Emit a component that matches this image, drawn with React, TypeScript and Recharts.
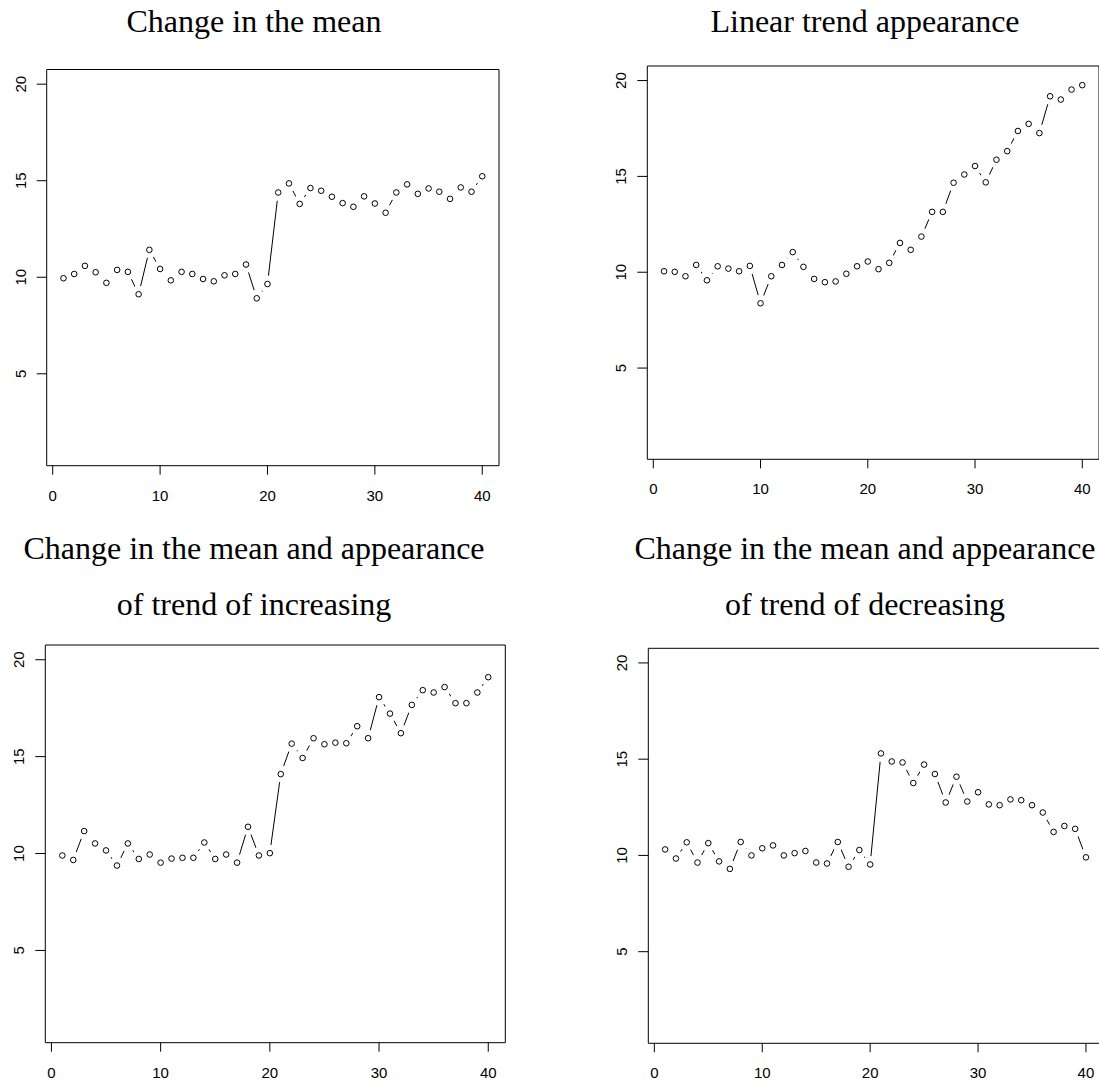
import React from 'react'
import { LineChart, Line, XAxis, YAxis, ReferenceArea } from 'recharts'

// time index shared by all four series
const timeIndex = [
  1, 2, 3, 4, 5, 6, 7, 8, 9, 10, 11, 12, 13, 14, 15, 16, 17, 18, 19, 20,
  21, 22, 23, 24, 25, 26, 27, 28, 29, 30, 31, 32, 33, 34, 35, 36, 37, 38, 39, 40,
]

const meanShift = [
  9.95, 10.17, 10.59, 10.26, 9.71, 10.38, 10.28, 9.12, 11.42, 10.43,
  9.84, 10.28, 10.17, 9.91, 9.79, 10.1, 10.17, 10.66, 8.91, 9.65,
  14.39, 14.86, 13.8, 14.62, 14.48, 14.17, 13.84, 13.65, 14.19, 13.82,
  13.34, 14.39, 14.81, 14.32, 14.6, 14.43, 14.06, 14.65, 14.43, 15.23,
]

const linearTrend = [
  10.05, 10.02, 9.79, 10.38, 9.58, 10.31, 10.19, 10.05, 10.33, 8.38,
  9.79, 10.38, 11.05, 10.28, 9.65, 9.48, 9.52, 9.92, 10.31, 10.56,
  10.16, 10.49, 11.53, 11.17, 11.86, 13.15, 13.15, 14.67, 15.1, 15.54,
  14.69, 15.87, 16.32, 17.37, 17.74, 17.26, 19.18, 19.01, 19.53, 19.76,
]

const meanTrendUp = [
  9.9, 9.67, 11.16, 10.52, 10.16, 9.38, 10.52, 9.72, 9.95, 9.53,
  9.74, 9.78, 9.78, 10.57, 9.72, 9.95, 9.53, 11.38, 9.9, 10.02,
  14.1, 15.67, 14.93, 15.95, 15.64, 15.72, 15.69, 16.57, 15.95, 18.07,
  17.22, 16.21, 17.67, 18.43, 18.31, 18.59, 17.76, 17.76, 18.31, 19.1,
]

const meanTrendDown = [
  10.31, 9.84, 10.68, 9.63, 10.64, 9.69, 9.3, 10.7, 10.0, 10.37,
  10.52, 10.0, 10.12, 10.23, 9.63, 9.58, 10.7, 9.41, 10.28, 9.53,
  15.3, 14.88, 14.83, 13.76, 14.72, 14.23, 12.75, 14.09, 12.8, 13.28,
  12.65, 12.61, 12.91, 12.87, 12.61, 12.23, 11.22, 11.53, 11.38, 9.9,
]

const xTicks = [0, 10, 20, 30, 40]
const yTicks = [5, 10, 15, 20]
const xDomain: [number, number] = [-0.56, 41.56]
const yDomain: [number, number] = [0.24, 20.76]

const SANS = '"Liberation Sans", Arial, Helvetica, sans-serif'
const SERIF = '"Liberation Serif", "Times New Roman", Times, serif'

const XTick = (props: any) => {
  const { x, y, payload } = props
  return (
    <text x={x} y={y} dy={11} textAnchor="middle" fontFamily={SANS} fontSize={15} fill="#000">
      {payload.value}
    </text>
  )
}

const YTick = (props: any) => {
  const { x, y, payload } = props
  return (
    <text
      x={x}
      y={y}
      transform={`rotate(-90, ${x}, ${y})`}
      textAnchor="middle"
      fontFamily={SANS}
      fontSize={15}
      fill="#000"
    >
      {payload.value}
    </text>
  )
}

// white disc that cuts the line around each point, like R's type = "b"
const GapDot = (props: any) => {
  const { cx, cy, index } = props
  if (cx == null || cy == null) return <g key={`g${index}`} />
  return <circle key={`g${index}`} cx={cx} cy={cy} r={8.5} fill="#fff" stroke="none" />
}

const OpenDot = (props: any) => {
  const { cx, cy, index } = props
  if (cx == null || cy == null) return <g key={`o${index}`} />
  return <circle key={`o${index}`} cx={cx} cy={cy} r={2.8} fill="none" stroke="#000" strokeWidth={1} />
}

interface PanelProps {
  values: number[]
  left: number
  top: number
  width: number
  height: number
  plotLeft: number
  plotRight: number
  plotTop: number
  plotBottom: number
}

const Panel: React.FC<PanelProps> = ({ values, left, top, width, height, plotLeft, plotRight, plotTop, plotBottom }) => {
  const data = timeIndex.map((t, i) => ({ t, v: values[i] }))
  const xAxisHeight = 40
  return (
    <div style={{ position: 'absolute', left, top }}>
      <LineChart
        width={width}
        height={height}
        data={data}
        margin={{
          top: plotTop - top,
          left: 0,
          right: left + width - plotRight,
          bottom: top + height - plotBottom - xAxisHeight,
        }}
      >
        <XAxis
          type="number"
          dataKey="t"
          domain={xDomain}
          ticks={xTicks}
          allowDataOverflow
          axisLine={false}
          tickLine={{ stroke: '#000' }}
          tickSize={9}
          tickMargin={15}
          height={xAxisHeight}
          tick={<XTick />}
        />
        <YAxis
          type="number"
          domain={yDomain}
          ticks={yTicks}
          allowDataOverflow
          axisLine={false}
          tickLine={{ stroke: '#000' }}
          tickSize={10}
          tickMargin={11}
          width={plotLeft - left}
          tick={<YTick />}
        />
        <ReferenceArea
          x1={xDomain[0]}
          x2={xDomain[1]}
          y1={yDomain[0]}
          y2={yDomain[1]}
          fill="none"
          stroke="#000"
          strokeWidth={1}
          ifOverflow="visible"
        />
        <Line
          type="linear"
          dataKey="v"
          stroke="#000"
          strokeWidth={1}
          dot={GapDot}
          activeDot={false}
          isAnimationActive={false}
        />
        <Line
          type="linear"
          dataKey="v"
          stroke="none"
          dot={OpenDot}
          activeDot={false}
          isAnimationActive={false}
        />
      </LineChart>
    </div>
  )
}

const App: React.FC = () => {
  return (
    <div
      style={{
        position: 'absolute',
        left: 0,
        top: 0,
        width: 1099,
        height: 1082,
        overflow: 'hidden',
        background: '#fff',
      }}
    >
      <Panel values={meanShift} left={0} top={0} width={560} height={541}
        plotLeft={46.7} plotRight={499} plotTop={69.5} plotBottom={465.7} />
      <Panel values={linearTrend} left={560} top={0} width={560} height={541}
        plotLeft={647.3} plotRight={1099} plotTop={66} plotBottom={459.3} />
      <Panel values={meanTrendUp} left={0} top={541} width={560} height={541}
        plotLeft={45.3} plotRight={505.3} plotTop={645} plotBottom={1042.7} />
      <Panel values={meanTrendDown} left={560} top={541} width={560} height={541}
        plotLeft={648.3} plotRight={1102.8} plotTop={648.3} plotBottom={1043.3} />

      <svg
        width={1099}
        height={1082}
        style={{ position: 'absolute', left: 0, top: 0, pointerEvents: 'none' }}
      >
        <g fontFamily={SERIF} fontSize={32} fill="#000" textAnchor="middle">
          <text x={254} y={32}>Change in the mean</text>
          <text x={865} y={32}>Linear trend appearance</text>
          <text x={254} y={559}>Change in the mean and appearance</text>
          <text x={254} y={615}>of trend of increasing</text>
          <text x={865} y={559}>Change in the mean and appearance</text>
          <text x={865} y={615}>of trend of decreasing</text>
        </g>
      </svg>
    </div>
  )
}

export default App
